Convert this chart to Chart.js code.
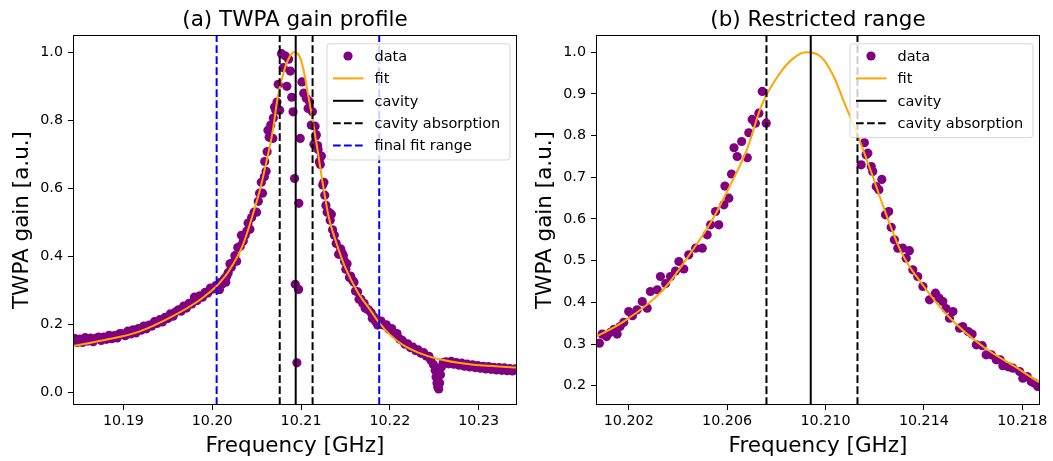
<!DOCTYPE html>
<html>
<head>
<meta charset="utf-8">
<script src="https://cdn.jsdelivr.net/npm/chart.js@4.4.1/dist/chart.umd.min.js"></script>
<style>
  html, body { margin: 0; padding: 0; background: #fff; }
  #wrap { position: relative; width: 1053px; height: 461px; overflow: hidden; }
  #wrap canvas { position: absolute; top: 0; }
</style>
</head>
<body>
<div id="wrap">
  <canvas id="gainFull" width="527" height="461" style="left:0"></canvas>
  <canvas id="gainRestricted" width="526" height="461" style="left:527px"></canvas>
</div>
<script>
// TWPA gain profile: measured data, Lorentzian-like fit, cavity markers.

/* ------------------------------ Data ---------------------------------- */

// measured gain, low-frequency tail
const tailLowFreq = [
  10.1845, 10.1848, 10.1851, 10.1854, 10.1857, 10.1860, 10.1863, 10.1866, 10.1869, 10.1872,
  10.1875, 10.1878, 10.1881, 10.1884, 10.1887, 10.1890, 10.1893, 10.1896, 10.1899, 10.1902,
  10.1905, 10.1908, 10.1911, 10.1914, 10.1917, 10.1920, 10.1923, 10.1926, 10.1929, 10.1932,
  10.1935, 10.1938, 10.1941, 10.1944, 10.1947, 10.1950, 10.1953, 10.1956, 10.1959, 10.1962,
  10.1965, 10.1968, 10.1971, 10.1974, 10.1977, 10.1980, 10.1983, 10.1986, 10.1989, 10.1992,
  10.1995, 10.1998, 10.2001, 10.2004
];
const tailLowGain = [
  0.159, 0.147, 0.157, 0.147, 0.161, 0.151, 0.160, 0.149, 0.159, 0.163,
  0.153, 0.163, 0.156, 0.168, 0.158, 0.167, 0.160, 0.173, 0.172, 0.167,
  0.180, 0.172, 0.184, 0.175, 0.188, 0.183, 0.195, 0.187, 0.198, 0.195,
  0.208, 0.203, 0.214, 0.207, 0.221, 0.217, 0.231, 0.224, 0.237, 0.243,
  0.239, 0.254, 0.248, 0.262, 0.260, 0.280, 0.270, 0.284, 0.280, 0.294,
  0.292, 0.307, 0.304, 0.314
];

// measured gain, rising flank inside the final fit range
const riseFreq = [
  10.20081, 10.20092, 10.20110, 10.20126, 10.20140, 10.20153, 10.20165, 10.20180, 10.20200, 10.20215,
  10.20234, 10.20255, 10.20275, 10.20288, 10.20316, 10.20329, 10.20350, 10.20370, 10.20390, 10.20404,
  10.20424, 10.20444, 10.20472, 10.20499, 10.20519, 10.20533, 10.20553, 10.20566, 10.20587, 10.20591,
  10.20607, 10.20618, 10.20628, 10.20641, 10.20659, 10.20682, 10.20688, 10.20702, 10.20715, 10.20729,
  10.20743, 10.20759
];
const riseGain = [
  0.302, 0.324, 0.318, 0.328, 0.335, 0.324, 0.342, 0.352, 0.378, 0.368,
  0.382, 0.402, 0.386, 0.426, 0.430, 0.462, 0.445, 0.462, 0.475, 0.498,
  0.480, 0.514, 0.530, 0.530, 0.562, 0.586, 0.618, 0.586, 0.634, 0.679,
  0.650, 0.708, 0.771, 0.750, 0.786, 0.747, 0.807, 0.839, 0.830, 0.854,
  0.906, 0.830
];

// measured gain inside the cavity absorption window
const peakFreq = [
  10.20780, 10.20800, 10.20820, 10.20840, 10.20860, 10.20880, 10.20895, 10.20910, 10.20927, 10.20935,
  10.20953, 10.20972, 10.20975, 10.20991, 10.21010, 10.21030, 10.21059, 10.21080, 10.21096, 10.21115,
  10.21128
];
const peakGain = [
  0.996, 0.955, 0.990, 0.900, 0.980, 0.945, 0.868, 0.825, 0.629, 0.318,
  0.087, 0.303, 0.556, 0.747, 0.913, 0.880, 0.865, 0.835, 0.855, 0.786,
  0.825
];

// measured gain, falling flank inside the final fit range
const fallFreq = [
  10.21145, 10.21158, 10.21165, 10.21172, 10.21186, 10.21192, 10.21206, 10.21217, 10.21229, 10.21244,
  10.21257, 10.21267, 10.21280, 10.21294, 10.21314, 10.21328, 10.21341, 10.21355, 10.21375, 10.21396,
  10.21423, 10.21447, 10.21462, 10.21477, 10.21490, 10.21504, 10.21518, 10.21545, 10.21558, 10.21580,
  10.21596, 10.21613, 10.21637, 10.21653, 10.21674, 10.21694, 10.21710, 10.21721, 10.21745, 10.21762,
  10.21789, 10.21802, 10.21820, 10.21836, 10.21850, 10.21863
];
const fallGain = [
  0.730, 0.783, 0.754, 0.758, 0.726, 0.714, 0.678, 0.670, 0.695, 0.610,
  0.618, 0.580, 0.550, 0.530, 0.530, 0.506, 0.524, 0.478, 0.462, 0.438,
  0.406, 0.422, 0.410, 0.402, 0.385, 0.362, 0.378, 0.338, 0.342, 0.330,
  0.324, 0.298, 0.296, 0.274, 0.274, 0.262, 0.262, 0.248, 0.245, 0.242,
  0.234, 0.218, 0.222, 0.210, 0.206, 0.198
];

// measured gain, high-frequency tail (with the spurious dip near 10.2255)
const tailHighFreq = [
  10.2190, 10.2193, 10.2196, 10.2199, 10.2202, 10.2205, 10.2208, 10.2211, 10.2214, 10.2217,
  10.2220, 10.2223, 10.2226, 10.2229, 10.2232, 10.2235, 10.2238, 10.2241, 10.2244, 10.2246,
  10.2249, 10.2251, 10.2252, 10.2253, 10.2254, 10.2255, 10.2256, 10.2257, 10.2258, 10.2260,
  10.2263, 10.2266, 10.2269, 10.2272, 10.2275, 10.2278, 10.2281, 10.2284, 10.2287, 10.2290,
  10.2293, 10.2296, 10.2299, 10.2302, 10.2305, 10.2308, 10.2311, 10.2314, 10.2317, 10.2320,
  10.2323, 10.2326, 10.2329, 10.2332, 10.2335, 10.2338, 10.2341
];
const tailHighGain = [
  0.210, 0.198, 0.199, 0.186, 0.188, 0.173, 0.173, 0.157, 0.153, 0.142,
  0.143, 0.132, 0.133, 0.123, 0.125, 0.115, 0.117, 0.107, 0.106, 0.095,
  0.082, 0.065, 0.045, 0.028, 0.015, 0.010, 0.028, 0.052, 0.075, 0.088,
  0.090, 0.084, 0.091, 0.083, 0.088, 0.080, 0.086, 0.077, 0.083, 0.075,
  0.081, 0.073, 0.079, 0.071, 0.077, 0.069, 0.076, 0.068, 0.074, 0.066,
  0.073, 0.065, 0.072, 0.064, 0.070, 0.063, 0.069
];

// fitted curve
const fitFreq = [
  10.1842, 10.1879, 10.1917, 10.1954, 10.1984, 10.1995, 10.2006, 10.2019, 10.2034, 10.2047,
  10.2054, 10.2061, 10.2068, 10.2074, 10.2081, 10.2087, 10.2092, 10.2098, 10.2103, 10.2108,
  10.2113, 10.2119, 10.2123, 10.2131, 10.2140, 10.2150, 10.2164, 10.2178, 10.2187, 10.2200,
  10.2215, 10.2232, 10.2252, 10.2290, 10.2345
];
const fitGain = [
  0.136, 0.154, 0.178, 0.222, 0.268, 0.290, 0.316, 0.358, 0.430, 0.534,
  0.598, 0.678, 0.766, 0.872, 0.946, 0.986, 1.000, 0.990, 0.946, 0.874,
  0.802, 0.706, 0.638, 0.518, 0.438, 0.366, 0.294, 0.242, 0.208, 0.170,
  0.139, 0.117, 0.100, 0.083, 0.073
];

// reference frequencies (GHz)
const cavityFreq = 10.2094;
const cavityAbsorption = [10.2076, 10.2113];
const finalFitRange = [10.2005, 10.2188];

// axes
const xTicksFull = [10.19, 10.20, 10.21, 10.22, 10.23];
const xTickLabelsFull = ['10.19', '10.20', '10.21', '10.22', '10.23'];
const yTicksFull = [0.0, 0.2, 0.4, 0.6, 0.8, 1.0];
const yTickLabelsFull = ['0.0', '0.2', '0.4', '0.6', '0.8', '1.0'];
const xLimFull = [10.18433, 10.23431];
const yLimFull = [-0.037, 1.051];

const xTicksZoom = [10.202, 10.206, 10.210, 10.214, 10.218];
const xTickLabelsZoom = ['10.202', '10.206', '10.210', '10.214', '10.218'];
const yTicksZoom = [0.2, 0.3, 0.4, 0.5, 0.6, 0.7, 0.8, 0.9, 1.0];
const yTickLabelsZoom = ['0.2', '0.3', '0.4', '0.5', '0.6', '0.7', '0.8', '0.9', '1.0'];
const xLimZoom = [10.20067, 10.21872];
const yLimZoom = [0.1537, 1.0415];

/* ----------------------------- Helpers -------------------------------- */

const FONT = '"DejaVu Sans", "Liberation Sans", sans-serif';
const DASH = [7.7, 3.3];

function toPoints(xs, ys) {
  return xs.map((x, i) => ({ x, y: ys[i] }));
}

const allData = [
  ...toPoints(tailLowFreq, tailLowGain),
  ...toPoints(riseFreq, riseGain),
  ...toPoints(peakFreq, peakGain),
  ...toPoints(fallFreq, fallGain),
  ...toPoints(tailHighFreq, tailHighGain)
];
const fitPoints = toPoints(fitFreq, fitGain);

function inRestrictedRange(p) {
  return p.x >= finalFitRange[0] && p.x <= finalFitRange[1] &&
    (p.x < cavityAbsorption[0] || p.x > cavityAbsorption[1]);
}

function vline(label, x, ylim, color, dash) {
  return {
    type: 'line',
    label,
    data: [{ x, y: ylim[0] }, { x, y: ylim[1] }],
    borderColor: color,
    borderWidth: 2,
    borderDash: dash || [],
    pointRadius: 0,
    clip: 0,
    order: 1,
    legendKind: 'line'
  };
}

/* Draws the matplotlib-style frame, titles, axis labels and legend. */
const paperPlugin = {
  id: 'paper',
  afterDatasetsDraw(chart, args, opts) {
    const { ctx, chartArea: a } = chart;
    ctx.save();
    ctx.strokeStyle = '#000';
    ctx.lineWidth = 1;
    ctx.strokeRect(Math.round(a.left) + 0.5, Math.round(a.top) + 0.5,
      Math.round(a.right - a.left) - 1, Math.round(a.bottom - a.top) - 1);

    // legend
    const entries = chart.data.datasets.filter((d) => d.label && !d.noLegend);
    const rowH = 22.4;
    const boxW = 183;
    const boxH = 26.6 + (entries.length - 1) * rowH;
    const bx = a.right - 7.5 - boxW;
    const by = a.top + 8.3;
    ctx.beginPath();
    ctx.roundRect(bx + 0.5, by + 0.5, boxW, boxH, 3);
    ctx.fillStyle = 'rgba(255,255,255,0.8)';
    ctx.fill();
    ctx.strokeStyle = 'rgba(204,204,204,0.8)';
    ctx.lineWidth = 1;
    ctx.stroke();

    ctx.font = `14.5px ${FONT}`;
    ctx.textBaseline = 'middle';
    ctx.textAlign = 'left';
    entries.forEach((d, i) => {
      const cy = by + 12.7 + i * rowH;
      if (d.legendKind === 'marker') {
        ctx.beginPath();
        ctx.arc(bx + 21.5, cy, 4.6, 0, Math.PI * 2);
        ctx.fillStyle = d.pointBackgroundColor;
        ctx.fill();
      } else {
        ctx.beginPath();
        ctx.setLineDash(d.borderDash || []);
        ctx.strokeStyle = d.borderColor;
        ctx.lineWidth = 2;
        ctx.moveTo(bx + 6.5, cy);
        ctx.lineTo(bx + 37, cy);
        ctx.stroke();
        ctx.setLineDash([]);
      }
      ctx.fillStyle = '#000';
      ctx.fillText(d.label, bx + 48, cy + 1);
    });

    // titles and axis labels
    const cx = (a.left + a.right) / 2;
    ctx.fillStyle = '#000';
    ctx.textAlign = 'center';
    ctx.textBaseline = 'alphabetic';
    ctx.font = `21.5px ${FONT}`;
    ctx.fillText(opts.title, cx, 26);
    ctx.fillText('Frequency [GHz]', cx, 452);
    ctx.translate(a.left - 45, (a.top + a.bottom) / 2);
    ctx.rotate(-Math.PI / 2);
    ctx.fillText('TWPA gain [a.u.]', 0, 0);
    ctx.restore();
  }
};

function buildChart(canvasId, o) {
  const canvas = document.getElementById(canvasId);
  const datasets = [
    {
      type: 'scatter',
      label: 'data',
      data: o.points,
      pointRadius: 4.6,
      pointBackgroundColor: 'purple',
      pointBorderWidth: 0,
      borderColor: 'purple',
      clip: 0,
      order: 3,
      legendKind: 'marker'
    },
    {
      type: 'line',
      label: 'fit',
      data: fitPoints,
      borderColor: 'orange',
      borderWidth: 2,
      pointRadius: 0,
      cubicInterpolationMode: 'monotone',
      clip: 0,
      order: 2,
      legendKind: 'line'
    },
    vline('cavity', cavityFreq, o.ylim, '#000'),
    vline('cavity absorption', cavityAbsorption[0], o.ylim, '#000', DASH),
    Object.assign(vline('cavity absorption', cavityAbsorption[1], o.ylim, '#000', DASH), { noLegend: true })
  ];
  if (o.showFitRange) {
    datasets.push(vline('final fit range', finalFitRange[0], o.ylim, 'blue', DASH));
    datasets.push(Object.assign(vline('final fit range', finalFitRange[1], o.ylim, 'blue', DASH), { noLegend: true }));
  }

  const tickFont = { family: FONT, size: 14.3 };
  return new Chart(canvas, {
    type: 'scatter',
    data: { datasets },
    options: {
      responsive: false,
      animation: false,
      devicePixelRatio: 1,
      events: [],
      layout: { padding: { left: 0, top: 35, right: canvas.width - o.plotRight, bottom: 0 } },
      plugins: {
        legend: { display: false },
        tooltip: { enabled: false },
        paper: { title: o.title }
      },
      scales: {
        x: {
          type: 'linear',
          min: o.xlim[0],
          max: o.xlim[1],
          afterBuildTicks: (s) => { s.ticks = o.xTicks.map((v) => ({ value: v })); },
          afterFit: (s) => { s.height = 56; },
          ticks: {
            callback: (v, i) => o.xTickLabels[i],
            font: tickFont, color: '#000', padding: 3, maxRotation: 0, autoSkip: false
          },
          grid: { drawOnChartArea: false, drawTicks: true, tickLength: 5, tickWidth: 1, tickColor: '#000' },
          border: { display: false }
        },
        y: {
          type: 'linear',
          min: o.ylim[0],
          max: o.ylim[1],
          afterBuildTicks: (s) => { s.ticks = o.yTicks.map((v) => ({ value: v })); },
          afterFit: (s) => { s.width = o.plotLeft; },
          ticks: {
            callback: (v, i) => o.yTickLabels[i],
            font: tickFont, color: '#000', padding: 5, autoSkip: false
          },
          grid: { drawOnChartArea: false, drawTicks: true, tickLength: 5, tickWidth: 1, tickColor: '#000' },
          border: { display: false }
        }
      }
    },
    plugins: [paperPlugin]
  });
}

buildChart('gainFull', {
  title: '(a) TWPA gain profile',
  points: allData,
  showFitRange: true,
  xlim: xLimFull, ylim: yLimFull,
  xTicks: xTicksFull, xTickLabels: xTickLabelsFull,
  yTicks: yTicksFull, yTickLabels: yTickLabelsFull,
  plotLeft: 73, plotRight: 517
});

buildChart('gainRestricted', {
  title: '(b) Restricted range',
  points: allData.filter(inRestrictedRange),
  showFitRange: false,
  xlim: xLimZoom, ylim: yLimZoom,
  xTicks: xTicksZoom, xTickLabels: xTickLabelsZoom,
  yTicks: yTicksZoom, yTickLabels: yTickLabelsZoom,
  plotLeft: 69, plotRight: 513
});
</script>
</body>
</html>
